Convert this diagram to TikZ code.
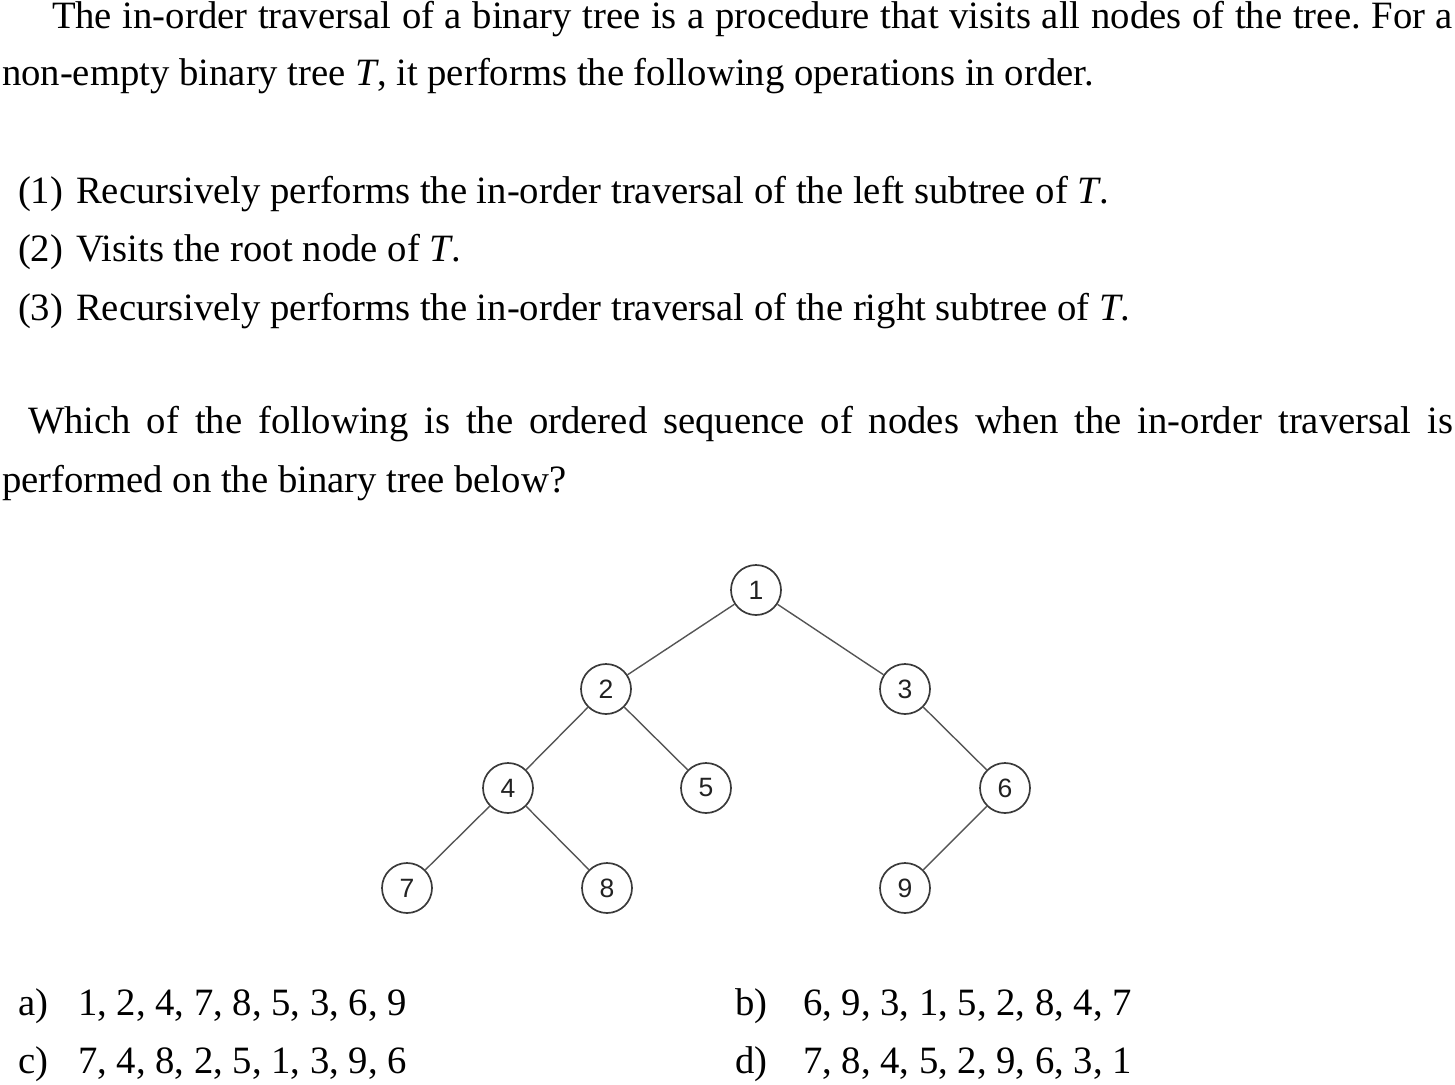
\documentclass[tikz,border=0pt]{standalone}
\usepackage{fontspec}
\setmainfont{Liberation Serif}
\newfontfamily\nodefont{Liberation Sans}
\definecolor{edgecol}{HTML}{555555}
\definecolor{ringcol}{HTML}{3A3A3A}
\definecolor{numcol}{HTML}{222222}
\begin{document}
\frenchspacing
\begin{tikzpicture}[x=1pt,y=-1pt,
  txt/.style={anchor=base west,inner sep=0pt,outer sep=0pt,font=\fontsize{38.7}{46}\selectfont},
  tnode/.style={circle,draw=ringcol,line width=1.7pt,minimum size=50pt,inner sep=0pt,
    font=\nodefont\fontsize{26.5}{26.5}\selectfont,text=numcol},
  edge/.style={draw=edgecol,line width=1.4pt}]
\useasboundingbox (0,0) rectangle (1455,1084);
% text
\node[txt] (l1) at (52,28) {\makebox[1401pt][s]{The in-order traversal of a binary tree is a procedure that visits all nodes of the tree. For a}};
\node[txt] (l2) at (2,85) {non-empty binary tree \textit{T}, it performs the following operations in order.};
\node[txt] (s1) at (18,203) {(1)\hspace{13pt}Recursively performs the in-order traversal of the left subtree of \textit{T}.};
\node[txt] (s2) at (18,261) {(2)\hspace{13pt}Visits the root node of \textit{T}.};
\node[txt] (s3) at (18,320) {(3)\hspace{13pt}Recursively performs the in-order traversal of the right subtree of \textit{T}.};
\node[txt] (q1) at (28,433) {\makebox[1425pt][s]{Which of the following is the ordered sequence of nodes when the in-order traversal is}};
\node[txt] (q2) at (2,492) {performed on the binary tree below?};
% tree
\node[tnode] (n1) at (756,590) {1};
\node[tnode] (n2) at (606,689) {2};
\node[tnode] (n3) at (905,689) {3};
\node[tnode] (n4) at (508,788) {4};
\node[tnode] (n5) at (706,788) {5};
\node[tnode] (n6) at (1005,788) {6};
\node[tnode] (n7) at (407,888) {7};
\node[tnode] (n8) at (607,888) {8};
\node[tnode] (n9) at (905,888) {9};
\path[edge] (n1) -- (n2);
\path[edge] (n1) -- (n3);
\path[edge] (n2) -- (n4);
\path[edge] (n2) -- (n5);
\path[edge] (n3) -- (n6);
\path[edge] (n4) -- (n7);
\path[edge] (n4) -- (n8);
\path[edge] (n6) -- (n9);
% answers
\node[txt] (al) at (18,1015) {a)};
\node[txt] (a) at (78,1015) {1, 2, 4, 7, 8, 5, 3, 6, 9};
\node[txt] (bl) at (735,1015) {b)};
\node[txt] (b) at (803,1015) {6, 9, 3, 1, 5, 2, 8, 4, 7};
\node[txt] (cl) at (18,1073) {c)};
\node[txt] (c) at (78,1073) {7, 4, 8, 2, 5, 1, 3, 9, 6};
\node[txt] (dl) at (735,1073) {d)};
\node[txt] (d) at (803,1073) {7, 8, 4, 5, 2, 9, 6, 3, 1};
\end{tikzpicture}
\end{document}
